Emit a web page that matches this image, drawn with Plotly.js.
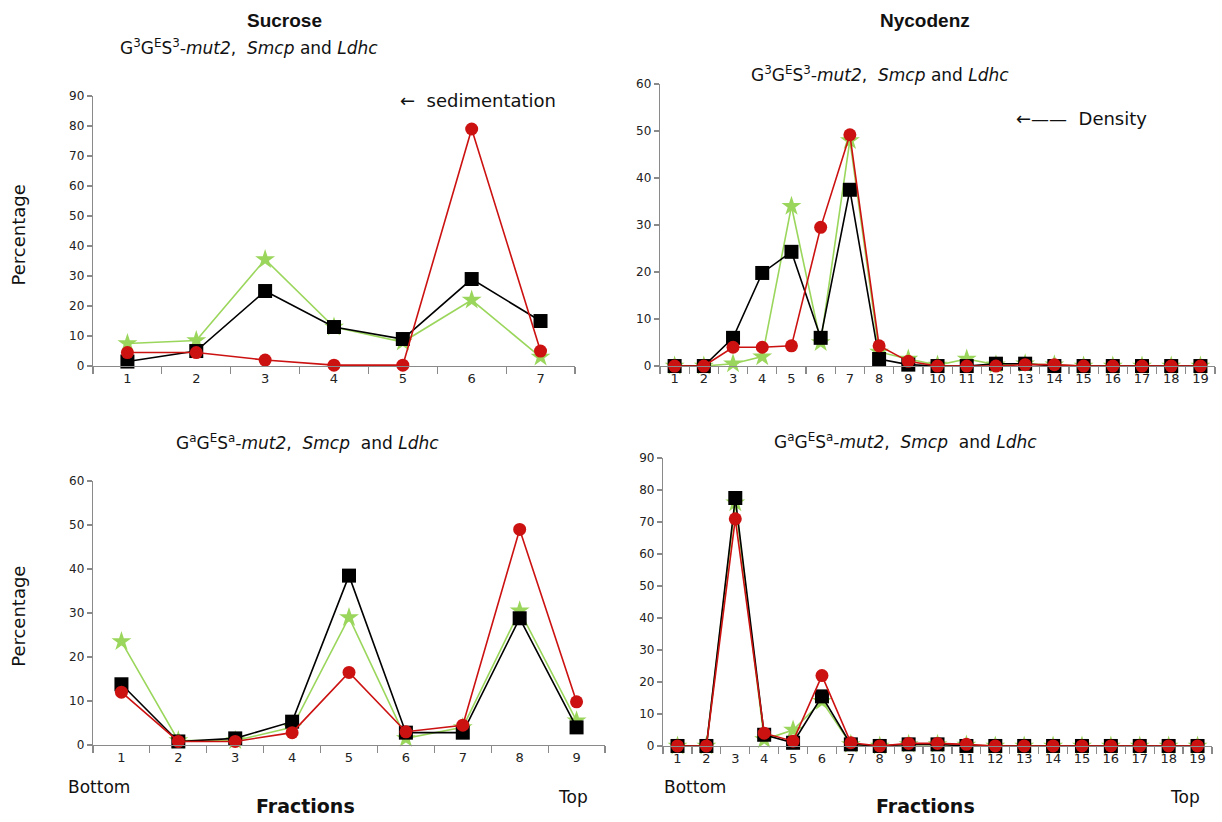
<!DOCTYPE html>
<html>
<head>
<meta charset="utf-8">
<script src="https://cdn.plot.ly/plotly-3.0.1.min.js"></script>
<style>html,body{margin:0;padding:0;background:#fff;}#chart{width:1222px;height:822px;}</style>
</head>
<body>
<div id="chart"></div>
<script>
// ---- Data ----
const sucTopFractions = [1,2,3,4,5,6,7];
const sucTopBlack = [1.5, 5, 25, 13, 9, 29, 15];
const sucTopGreen = [7.5, 8.5, 35.5, 13, 8, 22, 3];
const sucTopRed   = [4.5, 4.5, 2, 0.3, 0.3, 79, 5];

const nycTopFractions = [1,2,3,4,5,6,7,8,9,10,11,12,13,14,15,16,17,18,19];
const nycTopBlack = [0, 0, 6, 19.8, 24.3, 6, 37.5, 1.5, 0.3, 0, 0, 0.5, 0.5, 0, 0, 0, 0, 0, 0];
const nycTopGreen = [0, 0, 0.5, 2, 34, 5, 48, 3, 1.5, 0.2, 1.5, 0.3, 0.5, 0.3, 0, 0, 0, 0, 0];
const nycTopRed   = [0, 0, 4, 4, 4.3, 29.5, 49.2, 4.3, 1, 0, 0, 0, 0.3, 0.3, 0, 0, 0, 0, 0];

const sucBotFractions = [1,2,3,4,5,6,7,8,9];
const sucBotBlack = [13.8, 0.8, 1.5, 5.3, 38.5, 2.8, 2.8, 28.8, 4];
const sucBotGreen = [23.5, 1, 1, 4, 29, 1.5, 4, 30.5, 5.5];
const sucBotRed   = [12, 0.8, 0.8, 2.8, 16.5, 3, 4.5, 49, 9.8];

const nycBotFractions = [1,2,3,4,5,6,7,8,9,10,11,12,13,14,15,16,17,18,19];
const nycBotBlack = [0, 0, 77.5, 3.5, 1, 15.5, 0.5, 0, 0.5, 0.5, 0, 0, 0, 0, 0, 0, 0, 0, 0];
const nycBotGreen = [0, 0, 76, 2, 5, 14, 0.5, 0, 0.5, 0.5, 0.3, 0, 0, 0, 0, 0, 0, 0, 0];
const nycBotRed   = [0, 0, 71, 4, 1.5, 22, 1, 0, 0.8, 0.8, 0.5, 0, 0, 0, 0, 0, 0, 0, 0];

const panelTitles = ["Sucrose", "Nycodenz"];
const subTop = "G<sup>3</sup>G<sup>E</sup>S<sup>3</sup><i>-mut2</i>,  <i>Smcp</i> and <i>Ldhc</i>";
const subBot = "G<sup>a</sup>G<sup>E</sup>S<sup>a</sup><i>-mut2</i>,  <i>Smcp</i>  and <i>Ldhc</i>";

// ---- Styles ----
const GREEN = '#9bd65c', BLACK = '#000000', RED = '#cc1111';
function series(x, y, color, symbol, size, xa, ya) {
  return {
    x: x, y: y, xaxis: xa, yaxis: ya, type: 'scatter', mode: 'lines+markers',
    line: {color: color, width: 1.6},
    marker: {color: color, symbol: symbol, size: size, line: {width: 0}},
    cliponaxis: false, showlegend: false, hoverinfo: 'skip'
  };
}
function panel(x, g, b, r, xa, ya) {
  return [
    series(x, g, GREEN, 'star', 15, xa, ya),
    series(x, b, BLACK, 'square', 14, xa, ya),
    series(x, r, RED, 'circle', 13, xa, ya)
  ];
}
const data = [].concat(
  panel(sucTopFractions, sucTopGreen, sucTopBlack, sucTopRed, 'x', 'y'),
  panel(nycTopFractions, nycTopGreen, nycTopBlack, nycTopRed, 'x2', 'y2'),
  panel(sucBotFractions, sucBotGreen, sucBotBlack, sucBotRed, 'x3', 'y3'),
  panel(nycBotFractions, nycBotGreen, nycBotBlack, nycBotRed, 'x4', 'y4')
);

const AX = '#8a8a8a';
const FW = 'DejaVu Sans, Verdana, sans-serif';
function xax(n, dom, anchor) {
  return {
    domain: dom, anchor: anchor, range: [0.5, n + 0.5],
    tickmode: 'array', tickvals: Array.from({length: n}, (_, i) => i + 1),
    ticks: '', showgrid: false, zeroline: false,
    showline: true, linecolor: AX, linewidth: 1.2,
    tickfont: {family: FW, size: 13, color: '#222'},
    minor: {ticks: 'outside', tick0: 0.5, dtick: 1, ticklen: 7, tickcolor: AX, tickwidth: 1.2, showgrid: false},
    fixedrange: true
  };
}
function yax(max, dom, anchor) {
  return {
    domain: dom, anchor: anchor, range: [0, max], dtick: 10,
    ticks: 'outside', ticklen: 5, tickcolor: AX, tickwidth: 1.2,
    showgrid: false, zeroline: false,
    showline: true, linecolor: AX, linewidth: 1.2,
    tickfont: {family: FW, size: 12, color: '#222'}, fixedrange: true
  };
}

const F = 'Liberation Sans, Arial, sans-serif';
const annotations = [
  {text: '<b>' + panelTitles[0] + '</b>', x: 0.233, y: 0.975, font: {size: 19}},
  {text: '<b>' + panelTitles[1] + '</b>', x: 0.757, y: 0.975, font: {size: 19}},
  {text: subTop, x: 0.204, y: 0.943, font: {family: FW, size: 17}},
  {text: subTop, x: 0.720, y: 0.910, font: {family: FW, size: 17}},
  {text: subBot, x: 0.252, y: 0.462, font: {family: FW, size: 17}},
  {text: subBot, x: 0.741, y: 0.463, font: {family: FW, size: 17}},
  {text: '\u2190  sedimentation', x: 0.391, y: 0.878, font: {family: FW, size: 18}},
  {text: '\u2190\u2014\u2014  Density', x: 0.885, y: 0.856, font: {family: FW, size: 18}},
  {text: 'Percentage', x: 0.015, y: 0.714, textangle: -90, font: {family: FW, size: 18}},
  {text: 'Percentage', x: 0.015, y: 0.250, textangle: -90, font: {family: FW, size: 18}},
  {text: 'Bottom', x: 0.081, y: 0.043, font: {family: FW, size: 17}},
  {text: 'Bottom', x: 0.569, y: 0.043, font: {family: FW, size: 17}},
  {text: 'Top', x: 0.469, y: 0.030, font: {family: FW, size: 17}},
  {text: 'Top', x: 0.970, y: 0.030, font: {family: FW, size: 17}},
  {text: '<b>Fractions</b>', x: 0.250, y: 0.020, font: {family: FW, size: 19}},
  {text: '<b>Fractions</b>', x: 0.757, y: 0.020, font: {family: FW, size: 19}}
].map(a => Object.assign({xref: 'paper', yref: 'paper', showarrow: false, xanchor: 'center', yanchor: 'middle'}, a,
  {font: Object.assign({family: F, color: '#111'}, a.font)}));

const layout = {
  width: 1222, height: 822,
  margin: {l: 0, r: 0, t: 0, b: 0},
  paper_bgcolor: '#fff', plot_bgcolor: '#fff',
  font: {family: F, color: '#222'},
  showlegend: false,
  xaxis: xax(7, [0.0761, 0.4705], 'y'),
  yaxis: yax(90, [0.5547, 0.8832], 'x'),
  xaxis2: xax(19, [0.5401, 0.9943], 'y2'),
  yaxis2: yax(60, [0.5547, 0.8978], 'x2'),
  xaxis3: xax(9, [0.0761, 0.4951], 'y3'),
  yaxis3: yax(60, [0.0937, 0.4148], 'x3'),
  xaxis4: xax(19, [0.5426, 0.9918], 'y4'),
  yaxis4: yax(90, [0.0925, 0.4428], 'x4'),
  annotations: annotations
};

Plotly.newPlot('chart', data, layout, {displayModeBar: false, staticPlot: true});
</script>
</body>
</html>
